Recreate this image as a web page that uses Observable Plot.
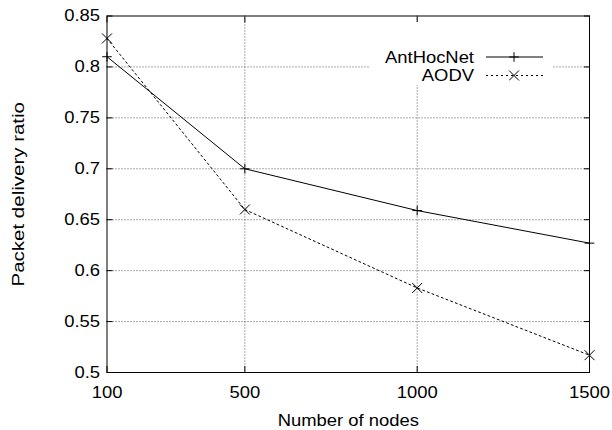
<!DOCTYPE html>
<html>
<head>
<meta charset="utf-8">
<script src="https://cdn.jsdelivr.net/npm/d3@7"></script>
<script src="https://cdn.jsdelivr.net/npm/@observablehq/plot@0.6"></script>
<style>
  html, body { margin: 0; padding: 0; background: #fff; }
  #chart svg { display: block; }
</style>
</head>
<body>
<div id="chart"></div>
<script>
const nodes = [100, 500, 1000, 1500];
const antHocNet = [0.81, 0.70, 0.659, 0.627];
const aodv = [0.828, 0.66, 0.583, 0.517];
const xTicks = [100, 500, 1000, 1500];
const yTicks = [0.5, 0.55, 0.6, 0.65, 0.7, 0.75, 0.8, 0.85];
const seriesNames = ["AntHocNet", "AODV"];

const dataA = nodes.map((n, i) => ({n, v: antHocNet[i]}));
const dataB = nodes.map((n, i) => ({n, v: aodv[i]}));

const font = "Liberation Sans, Arial, Helvetica, sans-serif";

const chart = Plot.plot({
  width: 612,
  height: 430,
  marginLeft: 106.5,
  marginRight: 23,
  marginTop: 15.5,
  marginBottom: 58,
  style: {fontFamily: font, fontSize: "16px", background: "#fff", color: "#000"},
  x: {domain: [100, 1500], axis: null},
  y: {domain: [0.5, 0.85], axis: null},
  marks: [
    Plot.gridY(yTicks.slice(1, -1), {stroke: "#555", strokeOpacity: 1, strokeDasharray: "1,2"}),
    Plot.gridX(xTicks.slice(1, -1), {stroke: "#555", strokeOpacity: 1, strokeDasharray: "1,2"}),
    // inward tick marks
    Plot.axisY({anchor: "left", ticks: yTicks, tickSize: 6, dx: 6, tickFormat: () => "", label: null}),
    Plot.axisY({anchor: "right", ticks: yTicks, tickSize: 6, dx: -6, tickFormat: () => "", label: null}),
    Plot.axisX({anchor: "bottom", ticks: xTicks, tickSize: 6, dy: -6, tickFormat: () => "", label: null}),
    Plot.axisX({anchor: "top", ticks: xTicks, tickSize: 6, dy: 6, tickFormat: () => "", label: null}),
    // tick labels
    Plot.axisY({anchor: "left", ticks: yTicks, tickSize: 0, tickPadding: 7, tickFormat: d => String(d), label: null, fontSize: 16}),
    Plot.axisX({anchor: "bottom", ticks: xTicks, tickSize: 0, tickPadding: 14, tickFormat: d => String(d), label: null, fontSize: 16}),
    // axis titles
    Plot.text(["Packet delivery ratio"], {frameAnchor: "left", dx: -88.5, rotate: -90, text: d => d, fontSize: 16, textAnchor: "middle", lineAnchor: "middle", className: "ytitle"}),
    Plot.text(["Number of nodes"], {frameAnchor: "bottom", dy: 48, text: d => d, fontSize: 16, textAnchor: "middle", lineAnchor: "middle"}),
    // data
    Plot.line(dataA, {x: "n", y: "v", stroke: "#000", strokeWidth: 1}),
    Plot.dot(dataA, {x: "n", y: "v", symbol: "plus", r: 3.2, stroke: "#000", strokeWidth: 1}),
    Plot.line(dataB, {x: "n", y: "v", stroke: "#000", strokeWidth: 1, strokeDasharray: "2,3"}),
    Plot.dot(dataB, {x: "n", y: "v", symbol: "times", r: 4.6, stroke: "#000", strokeWidth: 1}),
    Plot.frame({stroke: "#000", strokeWidth: 1})
  ]
});
document.getElementById("chart").appendChild(chart);

// legend (white box over the grid)
const svg = d3.select(chart);
const g = svg.append("g").attr("font-family", font).attr("font-size", 16);
g.append("rect").attr("x", 370).attr("y", 22).attr("width", 183).attr("height", 63).attr("fill", "#fff");
const rows = [
  {name: seriesNames[0], y: 57, dash: null, sym: d3.symbolPlus, size: Math.PI * 3.2 * 3.2},
  {name: seriesNames[1], y: 75.5, dash: "2,3", sym: d3.symbolTimes, size: Math.PI * 4.6 * 4.6}
];
rows.forEach(r => {
  g.append("text").attr("x", 474).attr("y", r.y).attr("dy", "0.35em").attr("text-anchor", "end").attr("fill", "#000").text(r.name);
  g.append("line").attr("x1", 486).attr("x2", 543).attr("y1", r.y).attr("y2", r.y)
    .attr("stroke", "#000").attr("stroke-width", 1).attr("stroke-dasharray", r.dash);
  g.append("path").attr("transform", `translate(514,${r.y})`).attr("d", d3.symbol(r.sym, r.size)())
    .attr("fill", "none").attr("stroke", "#000").attr("stroke-width", 1);
});

// the reference's lettering is horizontally stretched; widen glyphs to match
svg.selectAll("text").each(function() {
  if (!this.textContent) return;
  const isYTitle = this.closest(".ytitle") !== null;
  const s = isYTitle ? 1.28 : 1.15;
  const len = this.getComputedTextLength();
  if (len > 0) {
    this.setAttribute("textLength", (len * s).toFixed(2));
    this.setAttribute("lengthAdjust", "spacingAndGlyphs");
  }
});
</script>
</body>
</html>
